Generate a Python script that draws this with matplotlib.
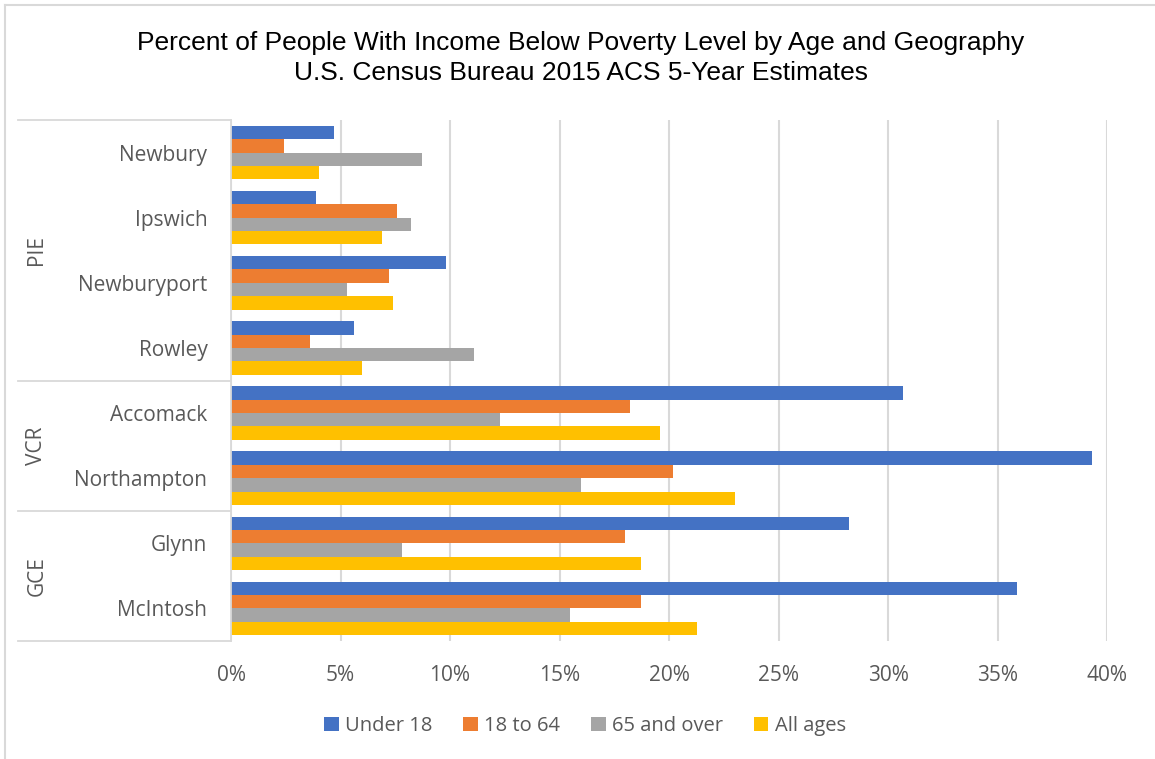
import matplotlib
matplotlib.use("Agg")
import matplotlib.pyplot as plt
from matplotlib.lines import Line2D
from matplotlib.patches import Patch
from matplotlib.transforms import blended_transform_factory
import numpy as np

places = ["Newbury", "Ipswich", "Newburyport", "Rowley",
          "Accomack", "Northampton", "Glynn", "McIntosh"]
regions = ["PIE", "VCR", "GCE"]
region_sizes = [4, 2, 2]

series_names = ["Under 18", "18 to 64", "65 and over", "All ages"]
under_18 = [4.7, 3.9, 9.8, 5.6, 30.7, 39.3, 28.2, 35.9]
age_18_64 = [2.4, 7.6, 7.2, 3.6, 18.2, 20.2, 18.0, 18.7]
age_65_over = [8.7, 8.2, 5.3, 11.1, 12.3, 16.0, 7.8, 15.5]
all_ages = [4.0, 6.9, 7.4, 6.0, 19.6, 23.0, 18.7, 21.3]
series_values = [under_18, age_18_64, age_65_over, all_ages]
colors = ["#4472C4", "#ED7D31", "#A5A5A5", "#FFC000"]

x_ticks = [0, 5, 10, 15, 20, 25, 30, 35, 40]

W, H = 1155, 759
fig = plt.figure(figsize=(W / 100, H / 100), dpi=100)
fig.patch.set_facecolor("white")

ax = fig.add_axes([231 / W, 1 - 641 / H, (1107 - 231) / W, (641 - 120) / H])

label_font = "Open Sans"
text_gray = "#595959"
grid_gray = "#D9D9D9"

pos = np.arange(len(places))
bar_h = 0.205
for i, (name, vals, c) in enumerate(zip(series_names, series_values, colors)):
    ax.barh(pos + (i - 1.5) * bar_h, vals, height=bar_h, color=c,
            label=name, zorder=3)

ax.set_xlim(0, 40)
ax.set_ylim(len(places) - 0.5, -0.5)
ax.set_xticks(x_ticks)
ax.set_xticklabels([f"{t}%" for t in x_ticks], fontsize=15,
                   family=label_font, color=text_gray)
ax.set_yticks(pos)
ax.set_yticklabels(places, fontsize=15, family=label_font, color=text_gray)
ax.tick_params(axis="both", length=0)
ax.tick_params(axis="y", pad=17)
ax.tick_params(axis="x", pad=17)
ax.grid(axis="x", color=grid_gray, linewidth=1.5, zorder=0)
for side in ["top", "right", "bottom"]:
    ax.spines[side].set_visible(False)
ax.spines["left"].set_color(grid_gray)
ax.spines["left"].set_linewidth(1.3)
ax.spines["left"].set_zorder(4)

# multi-level category axis: separators and rotated group labels
trans = blended_transform_factory(fig.transFigure, ax.transData)
bounds = np.concatenate([[0], np.cumsum(region_sizes)]) - 0.5
for b in bounds:
    ax.add_line(Line2D([18 / W, 231 / W], [b, b], transform=trans,
                       color=grid_gray, linewidth=1.3, clip_on=False))
for name, lo, hi in zip(regions, bounds[:-1], bounds[1:]):
    ax.text(37 / W, (lo + hi) / 2, name, transform=trans, rotation=90,
            ha="center", va="center", fontsize=15, family=label_font,
            color=text_gray)

# chart border (top and left edges)
fig.add_artist(Line2D([5 / W, 1], [1 - 5 / H, 1 - 5 / H],
                      transform=fig.transFigure, color=grid_gray, linewidth=1.5))
fig.add_artist(Line2D([5 / W, 5 / W], [0, 1 - 5 / H],
                      transform=fig.transFigure, color=grid_gray, linewidth=1.5))

fig.text(581 / W, 1 - 43 / H,
         "Percent of People With Income Below Poverty Level by Age and Geography",
         ha="center", va="center", fontsize=19, family="Liberation Sans",
         color="black")
fig.text(581 / W, 1 - 73 / H, "U.S. Census Bureau 2015 ACS 5-Year Estimates",
         ha="center", va="center", fontsize=19, family="Liberation Sans",
         color="black")

handles = [Patch(facecolor=c, edgecolor="none") for c in colors]
leg = fig.legend(handles, series_names, loc="center", ncol=4,
                 bbox_to_anchor=(585 / W, 1 - 726 / H), frameon=False,
                 prop={"family": label_font, "size": 14.5},
                 handlelength=0.72, handleheight=0.72, handletextpad=0.3,
                 columnspacing=1.55)
for t in leg.get_texts():
    t.set_color(text_gray)

fig.savefig("out.png", dpi=100, facecolor="white")
